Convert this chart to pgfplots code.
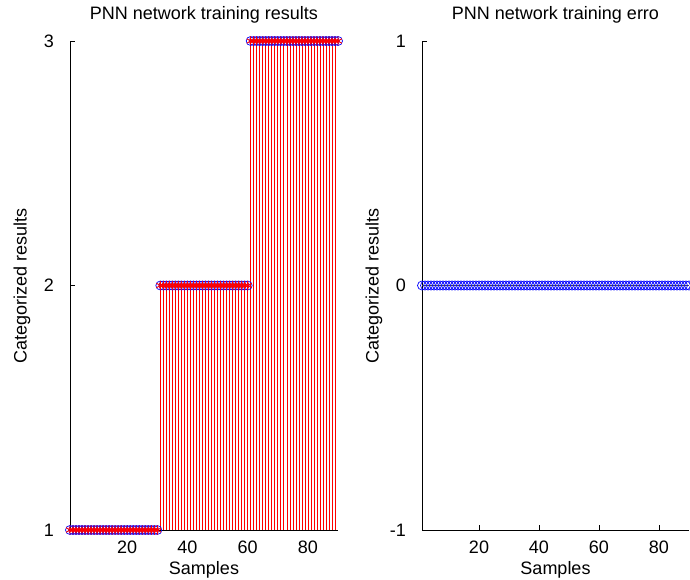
\documentclass[border=0pt]{standalone}
\usepackage{fontspec}
\setmainfont{Liberation Sans}
\usepackage{pgfplots}
\pgfplotsset{compat=1.18}
\usepackage{pgfplotstable}
\pgfplotstableread{
x y e
1 1 0
2 1 0
3 1 0
4 1 0
5 1 0
6 1 0
7 1 0
8 1 0
9 1 0
10 1 0
11 1 0
12 1 0
13 1 0
14 1 0
15 1 0
16 1 0
17 1 0
18 1 0
19 1 0
20 1 0
21 1 0
22 1 0
23 1 0
24 1 0
25 1 0
26 1 0
27 1 0
28 1 0
29 1 0
30 1 0
31 2 0
32 2 0
33 2 0
34 2 0
35 2 0
36 2 0
37 2 0
38 2 0
39 2 0
40 2 0
41 2 0
42 2 0
43 2 0
44 2 0
45 2 0
46 2 0
47 2 0
48 2 0
49 2 0
50 2 0
51 2 0
52 2 0
53 2 0
54 2 0
55 2 0
56 2 0
57 2 0
58 2 0
59 2 0
60 2 0
61 3 0
62 3 0
63 3 0
64 3 0
65 3 0
66 3 0
67 3 0
68 3 0
69 3 0
70 3 0
71 3 0
72 3 0
73 3 0
74 3 0
75 3 0
76 3 0
77 3 0
78 3 0
79 3 0
80 3 0
81 3 0
82 3 0
83 3 0
84 3 0
85 3 0
86 3 0
87 3 0
88 3 0
89 3 0
90 3 0
}\data
\begin{document}
\fontsize{18bp}{21bp}\selectfont
\begin{tikzpicture}
\pgfplotsset{
  common/.style={
    scale only axis, width=268bp, height=489bp,
    xmin=1, xmax=90, xtick={20,40,60,80},
    axis x line*=bottom, axis y line*=left,
    axis line style={-, black, line width=0.6bp},
    tick align=inside, major tick length=5bp,
    tick style={black, line width=0.6bp},
    /pgf/number format/assume math mode=true,
    xlabel={Samples}, ylabel={Categorized results},
    title style={at={(0.5,1)}, anchor=base, yshift=16bp},
    xlabel style={at={(0.5,0)}, anchor=base, yshift=-44bp},
    ylabel style={at={(0,0.5)}, anchor=center, yshift=48bp},
    xticklabel style={anchor=base, yshift=-23bp},
    yticklabel style={xshift=-10bp},
    clip marker paths=false,
  }
}
\begin{axis}[common, at={(70bp,50bp)}, anchor=south west,
  ymin=1, ymax=3, ytick={1,2,3},
  title={PNN network training results}]
\addplot[ycomb, blue, line width=0.6bp, mark=o, mark size=4.5bp, mark options={solid, line width=0.7bp}] table[x=x,y=y]{\data};
\addplot[ycomb, red, line width=0.6bp, mark=asterisk, mark size=4.5bp, mark options={solid, line width=0.9bp}] table[x=x,y=y]{\data};
\end{axis}
\begin{axis}[common, at={(422bp,50bp)}, anchor=south west, width=267bp,
  ymin=-1, ymax=1, ytick={-1,0,1},
  title={PNN network training erro}]
\addplot[black!70, line width=0.6bp] table[x=x,y=e]{\data};
\addplot[only marks, blue, mark=o, mark size=4.5bp, mark options={line width=0.7bp}] table[x=x,y=e]{\data};
\end{axis}
\pgfresetboundingbox
\path (0,0) rectangle (690bp,580bp);
\end{tikzpicture}
\end{document}
